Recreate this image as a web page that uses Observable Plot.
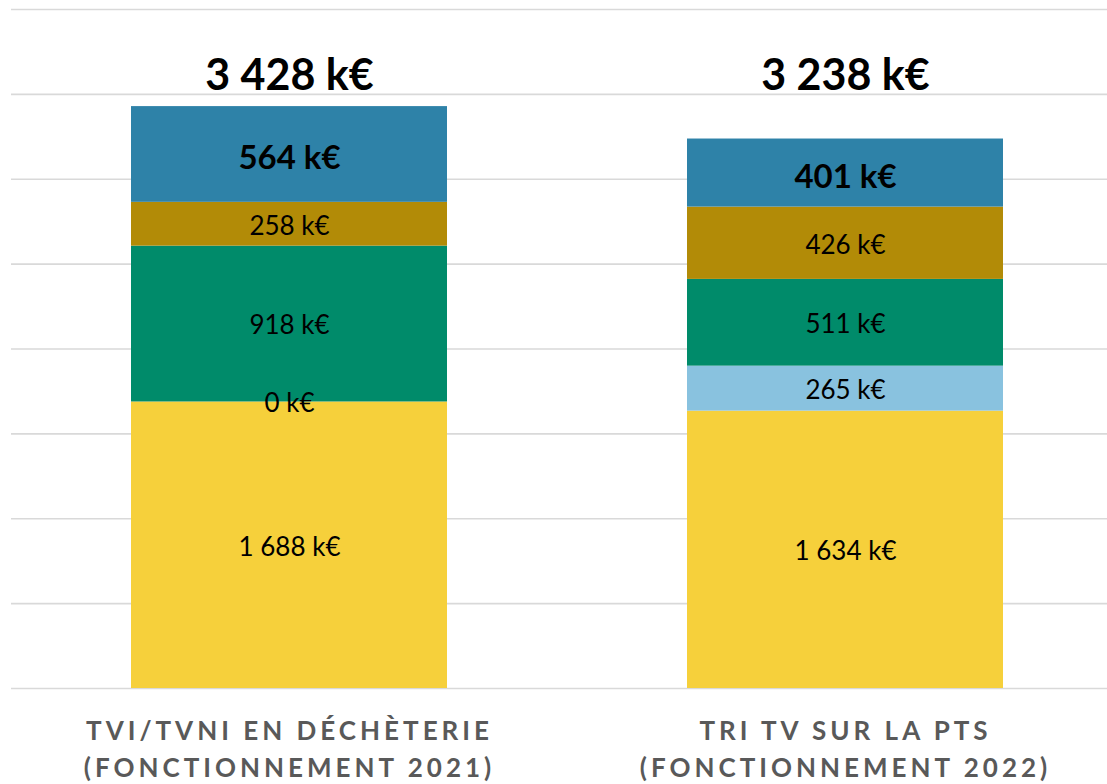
<!DOCTYPE html>
<html>
<head>
<meta charset="utf-8">
<script src="https://cdn.jsdelivr.net/npm/d3@7"></script>
<script src="https://cdn.jsdelivr.net/npm/@observablehq/plot@0.6"></script>
<style>
  html, body { margin: 0; padding: 0; background: #fff; }
  #chart { width: 1107px; height: 784px; overflow: hidden; }
  svg { font-family: Lato, "Open Sans", sans-serif; }
  .cat-label text { letter-spacing: 4px; }
</style>
</head>
<body>
<div id="chart"></div>
<script>
// Categories (two scenarios)
const categories = ["TVI/TVNI EN DÉCHÈTERIE\n(FONCTIONNEMENT 2021)", "TRI TV SUR LA PTS\n(FONCTIONNEMENT 2022)"];
// Series, stacked bottom to top (k€)
const seriesNames = ["Poste 1", "Poste 2", "Poste 3", "Poste 4", "Poste 5"];
const seriesColors = ["#F6D03B", "#89C2DF", "#008B6A", "#B28B07", "#2E82A8"];
const poste1 = [1688, 1634];
const poste2 = [0, 265];
const poste3 = [918, 511];
const poste4 = [258, 426];
const poste5 = [564, 401];
// Totals as printed on the chart (k€)
const totalValues = [3428, 3238];
const yTicks = [0, 500, 1000, 1500, 2000, 2500, 3000, 3500, 4000];

const seriesValues = [poste1, poste2, poste3, poste4, poste5];
const rows = [];
categories.forEach((c, i) => {
  seriesNames.forEach((s, j) => rows.push({cat: c, serie: s, value: seriesValues[j][i]}));
});
const totals = categories.map((c, i) => ({cat: c, total: totalValues[i]}));
const fmt = v => d3.format(",")(v).replace(/,/g, " ") + " k€";
const boldSerie = "Poste 5";

const chart = Plot.plot({
  width: 1107,
  height: 784,
  marginTop: 9,
  marginBottom: 96,
  marginLeft: 11,
  marginRight: 0,
  x: {domain: categories, range: [11, 1123], paddingInner: 0.432, paddingOuter: 0.216, axis: null},
  y: {domain: [0, 4000], axis: null},
  color: {domain: seriesNames, range: seriesColors},
  marks: [
    Plot.ruleY(yTicks, {stroke: "#d9d9d9", strokeWidth: 1.6}),
    Plot.barY(rows, {x: "cat", y: "value", fill: "serie", z: "serie", order: seriesNames}),
    Plot.text(rows, Plot.stackY({
      x: "cat", y: "value", z: "serie", order: seriesNames,
      text: d => d.serie !== boldSerie ? fmt(d.value) : "",
      fontSize: 26, fill: "#000", dy: 2
    })),
    Plot.text(rows, Plot.stackY({
      x: "cat", y: "value", z: "serie", order: seriesNames,
      text: d => d.serie === boldSerie ? fmt(d.value) : "",
      fontSize: 33, fontWeight: "bold", fill: "#000", dy: 4
    })),
    Plot.text(totals, {
      x: "cat", text: d => fmt(d.total), frameAnchor: "top", dy: 50,
      fontSize: 43, fontWeight: "bold", fill: "#000"
    }),
    Plot.text(categories, {
      x: d => d, text: d => d, frameAnchor: "bottom", lineAnchor: "top", dy: 25,
      fontSize: 26, fontWeight: "bold", fill: "#595959", lineHeight: 1.42,
      className: "cat-label"
    })
  ]
});
document.getElementById("chart").appendChild(chart);
</script>
</body>
</html>
